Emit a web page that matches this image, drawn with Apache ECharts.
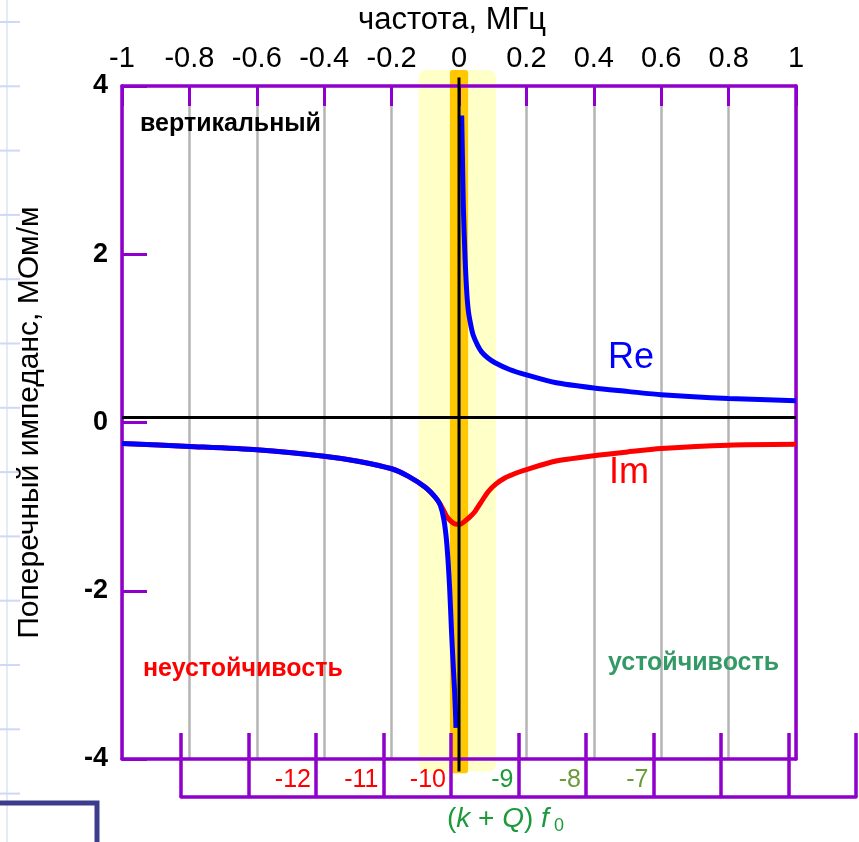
<!DOCTYPE html>
<html><head><meta charset="utf-8">
<script src="https://cdn.jsdelivr.net/npm/echarts@6/dist/echarts.min.js"></script>
<style>html,body{margin:0;padding:0;background:#fff}#c{width:859px;height:842px}</style>
</head><body><div id="c"></div><script>
// ---- data ----
const freqTickLabels = ['-1','-0.8','-0.6','-0.4','-0.2','0','0.2','0.4','0.6','0.8','1'];
const impTickLabels = ['-4','-2','0','2','4'];
const harmonicLabels = ['', '', '-12', '-11', '-10', '-9', '-8', '-7', '', '', ''];
const harmonicColors = ['', '', 'r', 'r', 'r', 'g', 'o', 'o', '', '', ''];

const freqRe = [-1,-0.8,-0.6,-0.4,-0.3,-0.2,-0.15,-0.1,-0.07,-0.056,-0.045,-0.036,-0.028,-0.022,-0.017,-0.013,-0.01,-0.009,
  0,
  0.008,0.01,0.013,0.018,0.023,0.028,0.035,0.042,0.055,0.067,0.085,0.107,0.15,0.2,0.285,0.4,0.5,0.6,0.8,1];
const reValues = [-0.25,-0.285,-0.325,-0.40,-0.46,-0.55,-0.64,-0.77,-0.89,-0.98,-1.15,-1.45,-1.95,-2.5,-2.9,-3.2,-3.5,-3.63,
  '-',
  3.65,3.2,2.55,1.95,1.55,1.32,1.16,1.04,0.92,0.84,0.77,0.71,0.63,0.566,0.475,0.41,0.37,0.33,0.285,0.26];

const freqIm = [-1,-0.8,-0.6,-0.4,-0.3,-0.2,-0.15,-0.1,-0.07,-0.056,-0.045,-0.036,-0.025,-0.015,-0.005,0.003,0.018,0.03,0.047,0.065,0.087,0.11,0.136,0.17,0.2,0.285,0.4,0.5,0.6,0.8,1];
const imValues = [-0.25,-0.285,-0.325,-0.40,-0.46,-0.55,-0.64,-0.77,-0.89,-0.97,-1.05,-1.12,-1.17,-1.20,-1.21,-1.21,-1.17,-1.13,-1.06,-0.95,-0.82,-0.73,-0.66,-0.60,-0.56,-0.46,-0.395,-0.35,-0.31,-0.27,-0.26];

const outerBand = [-0.12, 0.11];     // pale yellow band (frequency)
const innerBand = [-0.027, 0.027];   // orange band (frequency)
const zeroLineLevel = 0.06;          // horizontal black reference line

// ---- styles ----
const FONT = 'Liberation Sans';
const PURPLE = '#8f00cc';
const GRAY = '#b4b4b4';

const chart = echarts.init(document.getElementById('c'), null, {renderer: 'canvas'});

function zip(a, b) { return a.map((v, i) => [v, b[i]]); }

const option = {
  animation: false,
  backgroundColor: '#ffffff',
  grid: [
    {left: 122, right: 63, top: 84, bottom: 83},
    {left: 181, right: 1, top: 733, bottom: 45}
  ],
  xAxis: [
    {
      gridIndex: 0, type: 'value', position: 'top', min: -1, max: 1, interval: 0.2,
      name: 'частота, МГц', nameLocation: 'middle', nameGap: 50,
      nameTextStyle: {fontFamily: FONT, fontSize: 31, color: '#000', padding: [0, 14, 0, 0]},
      axisLine: {show: true, onZero: false, lineStyle: {color: PURPLE, width: 3.5}},
      axisTick: {show: true, inside: true, length: 20, lineStyle: {color: PURPLE, width: 3}},
      axisLabel: {fontFamily: FONT, fontSize: 29, color: '#000', margin: 13,
        formatter: v => freqTickLabels[Math.round((v + 1) * 5)]},
      splitLine: {show: true, lineStyle: {color: GRAY, width: 2.5}}
    },
    {
      gridIndex: 0, type: 'value', position: 'bottom', min: -1, max: 1,
      axisLine: {show: true, onZero: false, lineStyle: {color: PURPLE, width: 3.5}},
      axisTick: {show: false}, axisLabel: {show: false}, splitLine: {show: false}
    },
    {
      gridIndex: 1, type: 'value', position: 'bottom', min: 0, max: 10, interval: 1,
      axisLine: {show: true, onZero: false, lineStyle: {color: PURPLE, width: 3.5}},
      axisTick: {show: true, inside: true, length: 64, lineStyle: {color: PURPLE, width: 3.5}},
      axisLabel: {inside: true, margin: 4, align: 'right', padding: [0, 5, 0, 0],
        fontFamily: FONT, fontSize: 25,
        formatter: v => { const i = Math.round(v); return harmonicLabels[i] ? '{' + harmonicColors[i] + '|' + harmonicLabels[i] + '}' : ''; },
        rich: {
          r: {color: '#ff0000', fontFamily: FONT, fontSize: 25},
          g: {color: '#1b9a3b', fontFamily: FONT, fontSize: 25},
          o: {color: '#6a9a3a', fontFamily: FONT, fontSize: 25}
        }},
      splitLine: {show: false}
    }
  ],
  yAxis: [
    {
      gridIndex: 0, type: 'value', position: 'left', min: -4, max: 4, interval: 2,
      name: 'Поперечный импеданс, МОм/м', nameLocation: 'middle', nameGap: 77, nameRotate: 90,
      nameTextStyle: {fontFamily: FONT, fontSize: 30, color: '#000'},
      axisLine: {show: true, onZero: false, lineStyle: {color: PURPLE, width: 3.5}},
      axisTick: {show: true, inside: true, length: 25, lineStyle: {color: PURPLE, width: 3}},
      axisLabel: {fontFamily: FONT, fontSize: 27, fontWeight: 'bold', color: '#000', margin: 14,
        formatter: v => impTickLabels[Math.round((v + 4) / 2)]},
      splitLine: {show: false}
    },
    {
      gridIndex: 0, type: 'value', position: 'right', min: -4, max: 4,
      axisLine: {show: true, onZero: false, lineStyle: {color: PURPLE, width: 3.5}},
      axisTick: {show: false}, axisLabel: {show: false}, splitLine: {show: false}
    },
    {gridIndex: 1, type: 'value', show: false, min: 0, max: 1}
  ],
  series: [
    {
      name: 'Im', type: 'line', xAxisIndex: 0, yAxisIndex: 0, z: 3,
      data: zip(freqIm, imValues), showSymbol: false, smooth: 0.25,
      lineStyle: {color: '#ff0000', width: 5}, itemStyle: {color: '#ff0000'}
    },
    {
      name: 'Re', type: 'line', xAxisIndex: 0, yAxisIndex: 0, z: 4,
      data: zip(freqRe, reValues), showSymbol: false, smooth: 0.25, connectNulls: false,
      lineStyle: {color: '#0000ff', width: 5}, itemStyle: {color: '#0000ff'}
    }
  ]
};
chart.setOption(option);

const P = (x, y) => chart.convertToPixel({xAxisIndex: 0, yAxisIndex: 0}, [x, y]);

function band(range, yTop, yBot, color, r) {
  const a = P(range[0], yTop), b = P(range[1], yBot);
  return {type: 'rect', z: -5, silent: true,
    shape: {x: a[0], y: a[1], width: b[0] - a[0], height: b[1] - a[1], r: r},
    style: {fill: color}};
}
function seg(p1, p2, color, w, z) {
  return {type: 'line', z: z, silent: true,
    shape: {x1: p1[0], y1: p1[1], x2: p2[0], y2: p2[1]},
    style: {stroke: color, lineWidth: w}};
}
function txt(x, y, text, font, color) {
  return {type: 'text', z: 20, silent: true, left: x, top: y,
    style: {text: text, font: font, fill: color}};
}

const graphics = [];
// slide decoration (faint background grid & navy box)
graphics.push({type: 'line', z: -20, shape: {x1: 7, y1: 0, x2: 7, y2: 842}, style: {stroke: '#dde3f7', lineWidth: 1.5}});
for (let k = 0; k < 13; k++) {
  const yy = 22 + 64.3 * k;
  graphics.push({type: 'line', z: -20, shape: {x1: 0, y1: yy, x2: 20, y2: yy}, style: {stroke: '#cfd8f5', lineWidth: 2}});
}
graphics.push({type: 'polyline', z: 30, shape: {points: [[0, 803], [97, 803], [97, 842]]}, style: {stroke: '#3c3c8c', lineWidth: 5, fill: null}});

graphics.push(band(outerBand, 4.19, -4.15, '#ffffc8', 8));
graphics.push(band(innerBand, 4.19, -4.17, '#ffc800', 3));
graphics.push(seg(P(0, 4.1), P(0, -4.15), '#000', 3, 10));
graphics.push(seg(P(-1, zeroLineLevel), P(1, zeroLineLevel), '#000', 3, 10));

graphics.push(txt(140, 112, 'вертикальный', 'bold 25px "Liberation Sans"', '#000'));
graphics.push(txt(143, 657, 'неустойчивость', 'bold 25px "Liberation Sans"', '#ff0000'));
graphics.push(txt(608, 651, 'устойчивость', 'bold 25px "Liberation Sans"', '#339966'));
graphics.push(txt(608, 340, 'Re', '36px "Liberation Sans"', '#0000ff'));
graphics.push(txt(609, 455, 'Im', '36px "Liberation Sans"', '#ff0000'));
graphics.push({type: 'text', z: 20, silent: true, left: 447, top: 805,
  style: {
    text: '{n|(}{i|k}{n| + }{i|Q}{n|) }{i|f}{s| 0}',
    rich: {
      n: {font: '28px "Liberation Sans"', fill: '#1b9a3b'},
      i: {font: 'italic 28px "Liberation Sans"', fill: '#1b9a3b'},
      s: {font: '18px "Liberation Sans"', fill: '#1b9a3b', padding: [14, 0, 0, 0]}
    }
  }});

chart.setOption({graphic: graphics});
</script></body></html>
